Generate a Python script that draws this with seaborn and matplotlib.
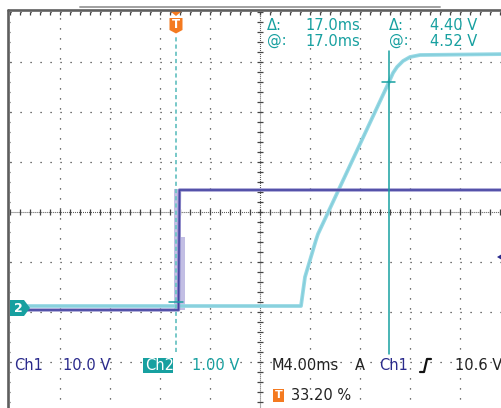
import numpy as np
import pandas as pd
import matplotlib.pyplot as plt
import seaborn as sns
from matplotlib.lines import Line2D
from matplotlib.patches import Polygon, Rectangle

# scope settings
ms_per_div = 4.0
ch1_scale = 10.0   # V/div
ch2_scale = 1.0    # V/div
ch1_offset = -1.96  # ground marker position in divisions
ch2_offset = -1.92
trig_pos = 0.332   # trigger position (fraction of record)

# ch1 (dark blue) trace, time in ms relative to trigger
ch1_time = [-13.3, 0.2, 0.28, 26.8]
ch1_volts = [0.0, 0.0, 24.0, 24.0]
# persistence ghost around the ch1 edge
ghost_time = [-0.16, 0.4, 0.4, 0.72]
ghost_volts = [24.2, 24.2, 14.6, 14.6]

# ch2 (cyan) trace
ch2_time = [-13.3, 10.0, 10.12, 10.32, 11.2, 11.36, 17.04, 17.36, 17.68, 18.16, 18.72, 19.52, 26.8]
ch2_volts = [0.04, 0.04, 0.26, 0.62, 1.36, 1.48, 4.52, 4.70, 4.82, 4.94, 5.02, 5.06, 5.08]

# cursors
cur_time = [0.0, 17.0]
cur_volts = [0.12, 4.52]
trig_level = 10.6

top_labels = [["\u0394:", "17.0ms", "\u0394:", "4.40 V"], ["@:", "17.0ms", "@:", "4.52 V"]]

W, H = 501, 408
NAVY = "#2a2a8c"
TEAL = "#17a0a0"
CYAN = "#96d8e4"
ORANGE = "#f47a20"

sns.set_style("white")
plt.rcParams["font.family"] = ["DejaVu Sans"]
plt.rcParams["lines.scale_dashes"] = False

fig = plt.figure(figsize=(W / 100, H / 100), dpi=100)
ax = fig.add_axes([10 / W, (H - 412) / H, 500 / W, 400 / H])
t0 = -trig_pos * 10 * ms_per_div
ax.set_xlim(t0, t0 + 10 * ms_per_div)
ax.set_ylim(-4, 4)
ax.set_xticks([])
ax.set_yticks([])
for s in ax.spines.values():
    s.set_visible(False)

def px(x, y):
    return (x / W, 1 - y / H)

# graticule
dot = (0, (0.85, 6.35))
for k in range(1, 10):
    if k != 5:
        ax.axvline(t0 + k * ms_per_div, color="#333333", lw=0.9, ls=dot, zorder=1)
for k in [-3, -2, -1, 1, 2, 3, 4]:
    ax.axhline(k, color="#333333", lw=0.9, ls=dot, zorder=1)
tc = t0 + 5 * ms_per_div
ax.axvline(tc, color="#555555", lw=0.8, ls=(0, (0.7, 0.75)), zorder=1)
ax.axhline(0, color="#555555", lw=0.8, ls=(0, (0.7, 0.75)), zorder=1)
minor_x = t0 + np.arange(0, 51) * ms_per_div / 5
minor_y = np.arange(-20, 21) * 0.2
ax.plot(minor_x, np.zeros_like(minor_x), ls="none", marker="|", ms=4.5, mew=0.9, color="#444444", zorder=1)
ax.plot(np.full_like(minor_y, tc), minor_y, ls="none", marker="_", ms=4.5, mew=0.9, color="#444444", zorder=1)
ax.plot(np.full_like(minor_y, t0), minor_y, ls="none", marker=0, ms=2.5, mew=0.9, color="#444444", zorder=1)
ax.plot(minor_x, np.full_like(minor_x, 4), ls="none", marker=3, ms=2.5, mew=0.9, color="#444444", zorder=1)

# traces
ch1 = pd.DataFrame({"t": ch1_time, "div": np.array(ch1_volts) / ch1_scale + ch1_offset})
ch2 = pd.DataFrame({"t": ch2_time, "div": np.array(ch2_volts) / ch2_scale + ch2_offset})
ax.fill_between(ghost_time, ch1_offset, np.array(ghost_volts) / ch1_scale + ch1_offset,
                color="#c2bee4", lw=0, zorder=2)
sns.lineplot(data=ch2, x="t", y="div", ax=ax, color=CYAN, lw=2.7, estimator=None, sort=False, zorder=3)
sns.lineplot(data=ch2, x="t", y="div", ax=ax, color="#84cedb", lw=1.0, estimator=None, sort=False, zorder=3)
sns.lineplot(data=ch1, x="t", y="div", ax=ax, color="#8c88c8", lw=2.4, estimator=None, sort=False, zorder=4)
sns.lineplot(data=ch1, x="t", y="div", ax=ax, color="#4442a0", lw=1.1, estimator=None, sort=False, zorder=4)
ax.set_xlabel("")
ax.set_ylabel("")

# cursors
ax.plot([cur_time[0]] * 2, [-2.8, 3.54], color="#6cc4c4", lw=1.3, ls=(0, (3, 2.2)), zorder=5)
ax.plot([cur_time[1]] * 2, [-2.84, 3.22], color=TEAL, lw=1.1, zorder=5)
for t, v in zip(cur_time, cur_volts):
    yv = v / ch2_scale + ch2_offset
    ax.plot([t - 0.55, t + 0.55], [yv, yv], color=TEAL, lw=1.1, zorder=5)

# frame
fig.add_artist(Line2D([px(8, 0)[0]] * 2, [px(0, 10)[1], 0], color="#5e5e5e", lw=1.9))
fig.add_artist(Line2D([px(8, 0)[0], 1], [px(0, 10)[1]] * 2, color="#5e5e5e", lw=1.9))
fig.add_artist(Line2D([px(80, 0)[0], px(440, 0)[0]], [px(0, 7)[1]] * 2, color="#a0a0a0", lw=1.4))

# trigger marker at top
tx = 176
fig.add_artist(Polygon([px(tx - 6, 11), px(tx + 6, 11), px(tx, 16)], closed=True, color=ORANGE, lw=0))
fig.add_artist(Polygon([px(tx - 6.5, 18), px(tx + 6.5, 18), px(tx + 6.5, 30), px(tx, 33.5), px(tx - 6.5, 30)],
                       closed=True, color=ORANGE, lw=0))
fig.text(*px(tx, 25), "T", color="white", fontsize=8.5, fontweight="bold", ha="center", va="center")

# ch2 ground marker
fig.add_artist(Polygon([px(10, 300), px(24, 300), px(30, 308), px(24, 316), px(10, 316)],
                       closed=True, color=TEAL, lw=0))
fig.text(*px(18, 308.5), "2", color="white", fontsize=9, fontweight="bold", ha="center", va="center")

# trigger level arrow at right edge
ylev = 212 - (trig_level / ch1_scale + ch1_offset) * 50
fig.add_artist(Polygon([px(497, ylev), px(502, ylev - 3), px(502, ylev + 3)], closed=True, color=NAVY, lw=0))

# readouts
fs = 10.5
for row, yy in zip(top_labels, [25, 41]):
    for x, s in zip([267, 305, 389, 430], row):
        fig.text(*px(x, yy), s, color=TEAL, fontsize=fs, ha="left", va="center")

fig.text(*px(14, 365), "Ch1", color=NAVY, fontsize=fs, va="center")
fig.text(*px(63, 365), "10.0 V", color=NAVY, fontsize=fs, va="center")
fig.add_artist(Rectangle(px(143, 373), 30 / W, 15 / H, color=TEAL, lw=0))
fig.text(*px(145, 365.5), "Ch2", color="white", fontsize=fs, va="center")
fig.text(*px(192, 365), "1.00 V", color=TEAL, fontsize=fs, va="center")
fig.text(*px(272, 365), "M4.00ms", color="#222222", fontsize=fs, va="center")
fig.text(*px(355, 365), "A", color="#222222", fontsize=fs, va="center")
fig.text(*px(379, 365), "Ch1", color=NAVY, fontsize=fs, va="center")
fig.add_artist(Line2D([px(420, 0)[0], px(424, 0)[0], px(427, 0)[0], px(431, 0)[0]],
                      [px(0, 372)[1], px(0, 372)[1], px(0, 359)[1], px(0, 359)[1]], color="#111111", lw=1.6))
fig.text(*px(455, 365), "10.6 V", color="#222222", fontsize=fs, va="center")
fig.add_artist(Rectangle(px(273, 402), 11 / W, 13 / H, color=ORANGE, lw=0))
fig.text(*px(278.5, 395.5), "T", color="white", fontsize=8, fontweight="bold", ha="center", va="center")
fig.text(*px(291, 396), "33.20 %", color="#222222", fontsize=fs, va="center")

fig.savefig("out.png", dpi=100)
